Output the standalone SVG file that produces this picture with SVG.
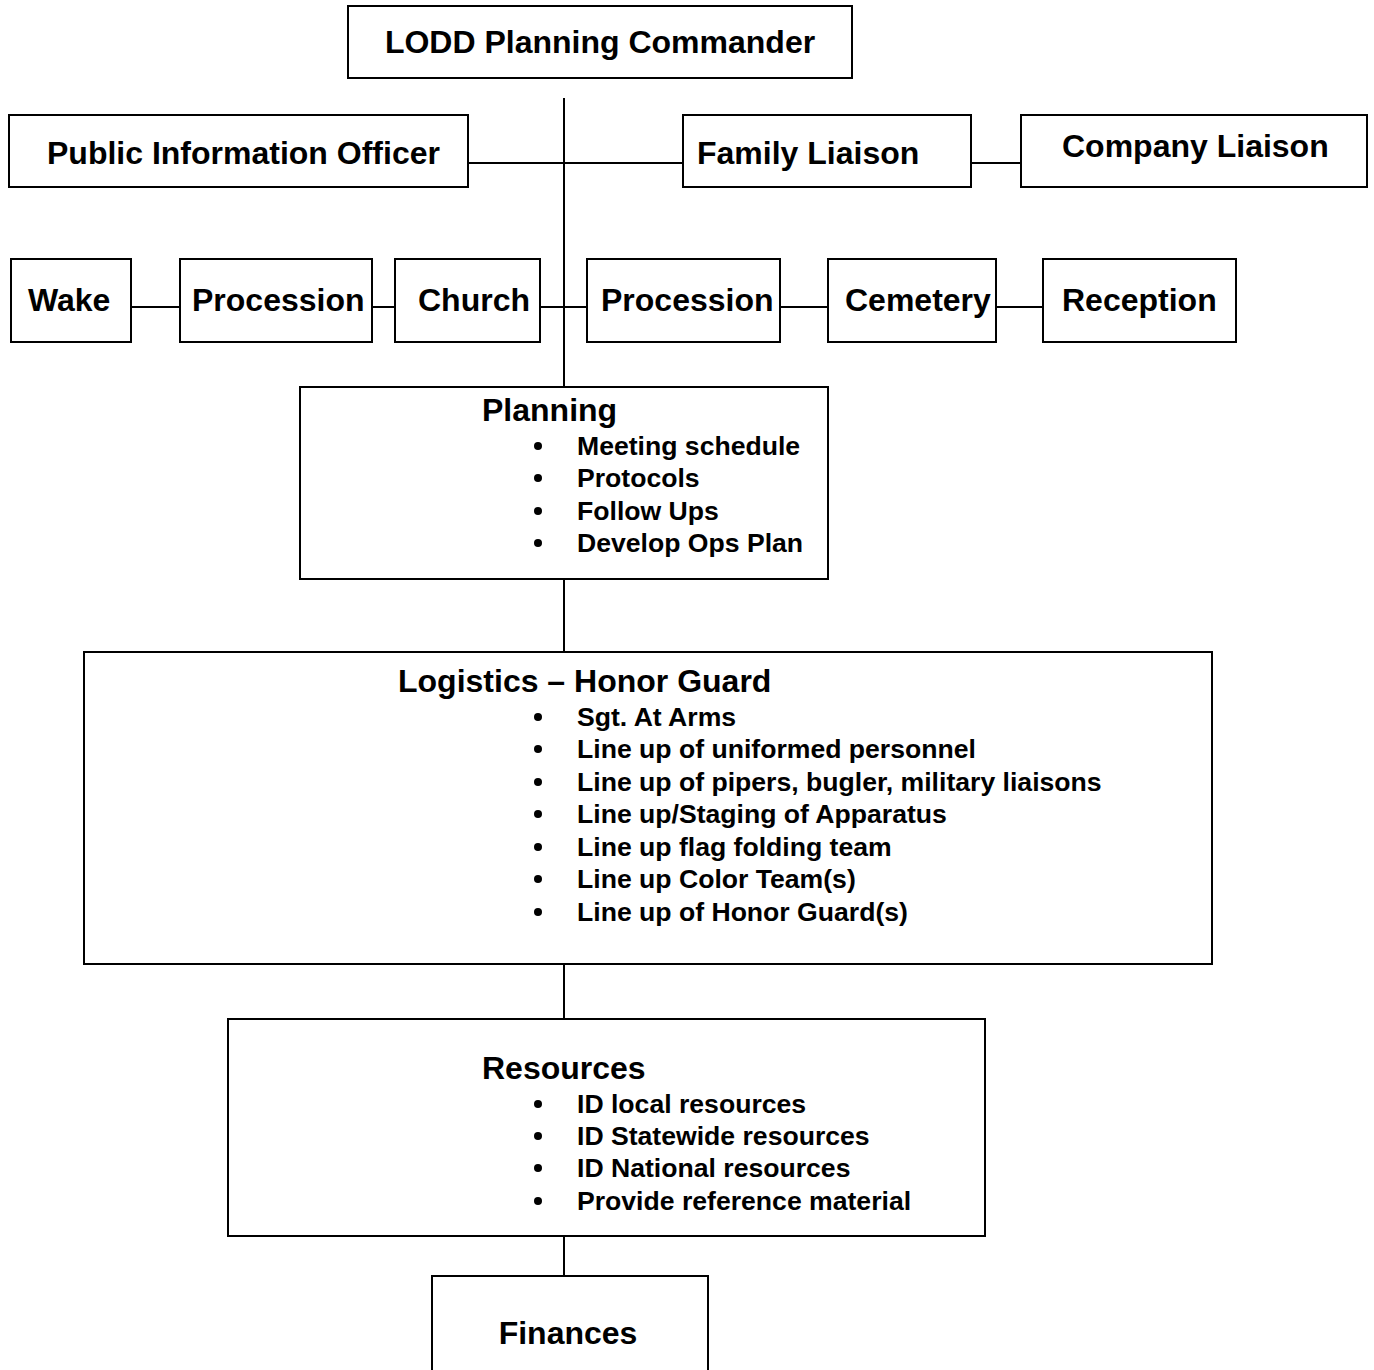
<svg xmlns="http://www.w3.org/2000/svg" width="1374" height="1370" viewBox="0 0 1374 1370">
<style>
.box{fill:#fff;stroke:#000;stroke-width:2}
.t{font-family:"Liberation Sans",Arial,sans-serif;font-weight:bold;font-size:32px;fill:#000}
.b{font-family:"Liberation Sans",Arial,sans-serif;font-weight:bold;font-size:26.6px;fill:#000}
.c{stroke:#000;stroke-width:2;fill:none}
</style>
<rect width="1374" height="1370" fill="#fff"/>
<g id="connectors">
<line class="c" x1="564" y1="98" x2="564" y2="387"/>
<line class="c" x1="468" y1="163" x2="683" y2="163"/>
<line class="c" x1="971" y1="163" x2="1021" y2="163"/>
<line class="c" x1="131" y1="307" x2="180" y2="307"/>
<line class="c" x1="372" y1="307" x2="395" y2="307"/>
<line class="c" x1="540" y1="307" x2="587" y2="307"/>
<line class="c" x1="780" y1="307" x2="828" y2="307"/>
<line class="c" x1="996" y1="307" x2="1043" y2="307"/>
<line class="c" x1="564" y1="579" x2="564" y2="652"/>
<line class="c" x1="564" y1="964" x2="564" y2="1019"/>
<line class="c" x1="564" y1="1236" x2="564" y2="1276"/>
</g>
<g id="commander"><rect class="box" x="348" y="6" width="504" height="72"/><text class="t" x="600" y="53" text-anchor="middle">LODD Planning Commander</text></g>
<g id="pio"><rect class="box" x="9" y="115" width="459" height="72"/><text class="t" x="47" y="164">Public Information Officer</text></g>
<g id="family"><rect class="box" x="683" y="115" width="288" height="72"/><text class="t" x="697" y="164">Family Liaison</text></g>
<g id="company"><rect class="box" x="1021" y="115" width="346" height="72"/><text class="t" x="1062" y="157">Company Liaison</text></g>
<g id="wake"><rect class="box" x="11" y="259" width="120" height="83"/><text class="t" x="28" y="311">Wake</text></g>
<g id="procession1"><rect class="box" x="180" y="259" width="192" height="83"/><text class="t" x="192" y="311">Procession</text></g>
<g id="church"><rect class="box" x="395" y="259" width="145" height="83"/><text class="t" x="418" y="311">Church</text></g>
<g id="procession2"><rect class="box" x="587" y="259" width="193" height="83"/><text class="t" x="601" y="311">Procession</text></g>
<g id="cemetery"><rect class="box" x="828" y="259" width="168" height="83"/><text class="t" x="845" y="311">Cemetery</text></g>
<g id="reception"><rect class="box" x="1043" y="259" width="193" height="83"/><text class="t" x="1062" y="311">Reception</text></g>
<g id="planning"><rect class="box" x="300" y="387" width="528" height="192"/>
<text class="t" x="482" y="421">Planning</text>
<g fill="#000"><circle cx="538" cy="446" r="4"/><circle cx="538" cy="478" r="4"/><circle cx="538" cy="511" r="4"/><circle cx="538" cy="543" r="4"/></g>
<text class="b" x="577" y="455">Meeting schedule</text>
<text class="b" x="577" y="487">Protocols</text>
<text class="b" x="577" y="520">Follow Ups</text>
<text class="b" x="577" y="552">Develop Ops Plan</text>
</g>
<g id="logistics"><rect class="box" x="84" y="652" width="1128" height="312"/>
<text class="t" x="398" y="692">Logistics – Honor Guard</text>
<g fill="#000"><circle cx="538" cy="717" r="4"/><circle cx="538" cy="749" r="4"/><circle cx="538" cy="782" r="4"/><circle cx="538" cy="814" r="4"/><circle cx="538" cy="847" r="4"/><circle cx="538" cy="879" r="4"/><circle cx="538" cy="912" r="4"/></g>
<text class="b" x="577" y="726">Sgt. At Arms</text>
<text class="b" x="577" y="758">Line up of uniformed personnel</text>
<text class="b" x="577" y="791">Line up of pipers, bugler, military liaisons</text>
<text class="b" x="577" y="823">Line up/Staging of Apparatus</text>
<text class="b" x="577" y="856">Line up flag folding team</text>
<text class="b" x="577" y="888">Line up Color Team(s)</text>
<text class="b" x="577" y="921">Line up of Honor Guard(s)</text>
</g>
<g id="resources"><rect class="box" x="228" y="1019" width="757" height="217"/>
<text class="t" x="482" y="1079">Resources</text>
<g fill="#000"><circle cx="538" cy="1104" r="4"/><circle cx="538" cy="1136" r="4"/><circle cx="538" cy="1168" r="4"/><circle cx="538" cy="1201" r="4"/></g>
<text class="b" x="577" y="1113">ID local resources</text>
<text class="b" x="577" y="1145">ID Statewide resources</text>
<text class="b" x="577" y="1177">ID National resources</text>
<text class="b" x="577" y="1210">Provide reference material</text>
</g>
<g id="finances"><rect class="box" x="432" y="1276" width="276" height="110"/><text class="t" x="568" y="1344" text-anchor="middle">Finances</text></g>
</svg>
